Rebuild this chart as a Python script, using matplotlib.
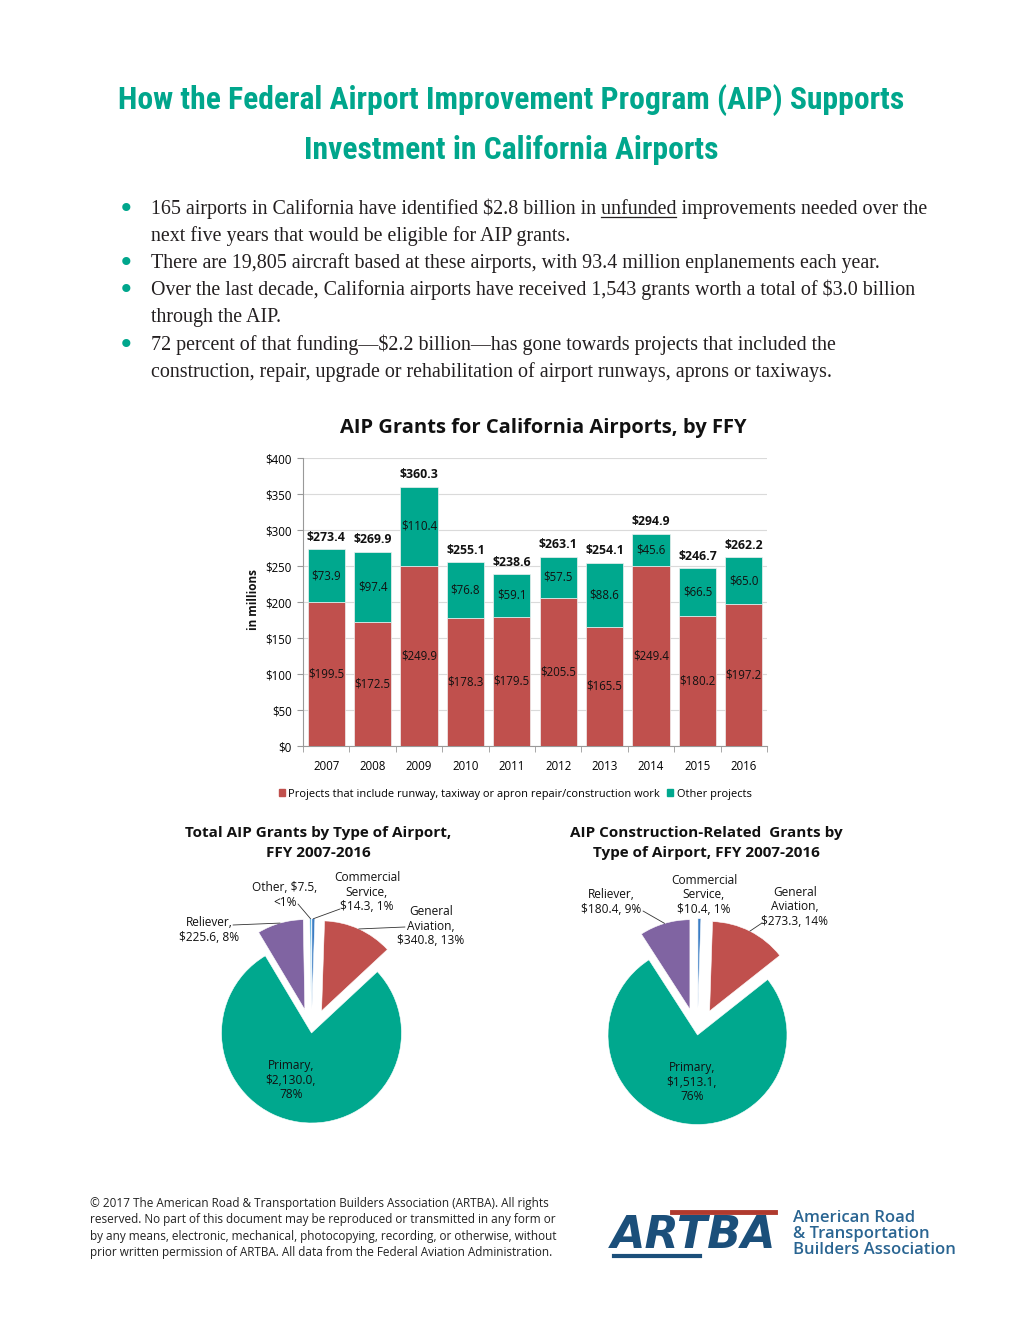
import numpy as np
import matplotlib.pyplot as plt
from matplotlib.patches import Patch

# Datos del grafico de barras (millones de dolares)
years = ['2007', '2008', '2009', '2010', '2011', '2012', '2013', '2014', '2015', '2016']
runway = [199.5, 172.5, 249.9, 178.3, 179.5, 205.5, 165.5, 249.4, 180.2, 197.2]
other = [73.9, 97.4, 110.4, 76.8, 59.1, 57.5, 88.6, 45.6, 66.5, 65.0]
totals = [273.4, 269.9, 360.3, 255.1, 238.6, 263.1, 254.1, 294.9, 246.7, 262.2]

# Datos de los graficos de torta
pie1_names = ['Commercial Service', 'General Aviation', 'Primary', 'Reliever', 'Other']
pie1_vals = [14.3, 340.8, 2130.0, 225.6, 7.5]
pie1_labels = ['Commercial\nService,\n$14.3, 1%', 'General\nAviation,\n$340.8, 13%',
               'Primary,\n$2,130.0,\n78%', 'Reliever,\n$225.6, 8%', 'Other, $7.5,\n<1%']
pie2_names = ['Commercial Service', 'General Aviation', 'Primary', 'Reliever']
pie2_vals = [10.4, 273.3, 1513.1, 180.4]
pie2_labels = ['Commercial\nService,\n$10.4, 1%', 'General\nAviation,\n$273.3, 14%',
               'Primary,\n$1,513.1,\n76%', 'Reliever,\n$180.4, 9%']

RED = '#C0504D'
GREEN = '#00A88E'
PURPLE = '#8064A2'
BLUE = '#3B7DC4'
LBLUE = '#5FB4E0'
TITLE_GREEN = '#00A68C'
SANS = ['Open Sans', 'DejaVu Sans']
SERIF = ['Liberation Serif', 'DejaVu Serif']
NARROW = ['Roboto Condensed', 'Liberation Sans Narrow', 'Roboto', 'DejaVu Sans']

W, H = 1020, 1320
fig = plt.figure(figsize=(10.2, 13.2), dpi=100)
plt.rcParams['font.family'] = SANS
r = fig.canvas.get_renderer()

# capa de pagina en coordenadas de pixel
pg = fig.add_axes([0, 0, 1, 1])
pg.set_xlim(0, W)
pg.set_ylim(H, 0)
pg.axis('off')
pg.set_zorder(5)


def text_width(s, **kw):
    t = pg.text(0, 0, s, **kw)
    w = t.get_window_extent(r).width
    t.remove()
    return w


# Titulo (ajustado al ancho del original)
title1 = 'How the Federal Airport Improvement Program (AIP) Supports'
title2 = 'Investment in California Airports'
tfs = 25 * 788 / text_width(title1, fontsize=25, fontweight='bold', family=NARROW)
for txt, y in [(title1, 100), (title2, 150)]:
    pg.text(511, y, txt, ha='center', va='center', fontsize=tfs, fontweight='bold',
            color=TITLE_GREEN, family=NARROW)

# Viñetas
bullets = [
    ("165 airports in California have identified $2.8 billion in unfunded improvements needed over the", 209, True),
    ("next five years that would be eligible for AIP grants.", 236, False),
    ("There are 19,805 aircraft based at these airports, with 93.4 million enplanements each year.", 263, True),
    ("Over the last decade, California airports have received 1,543 grants worth a total of $3.0 billion", 290, True),
    ("through the AIP.", 317, False),
    ("72 percent of that funding\u2014$2.2 billion\u2014has gone towards projects that included the", 345, True),
    ("construction, repair, upgrade or rehabilitation of airport runways, aprons or taxiways.", 372, False),
]
bfs = 13 * 774 / text_width(bullets[0][0], fontsize=13, family=SERIF)
for txt, y, dot in bullets:
    pg.text(151, y + 5, txt, ha='left', va='baseline', fontsize=bfs, family=SERIF, color='#231F20')
    if dot:
        pg.text(126, y, '\u2022', ha='center', va='center', fontsize=bfs * 1.4,
                color=TITLE_GREEN, family='DejaVu Sans')

# subrayado de "unfunded"
pre = bullets[0][0].split('unfunded')[0] + 'unfunded'
x_end = 151 + text_width(pre, fontsize=bfs, family=SERIF)
w_u = text_width('unfunded', fontsize=bfs, family=SERIF)
pg.plot([x_end - w_u, x_end], [217, 217], color='#231F20', lw=0.9)

# Grafico de barras
ax = fig.add_axes([303 / W, 1 - 746 / H, 464 / W, 288 / H])
x = np.arange(len(years))
b1 = ax.bar(x, runway, 0.8, color=RED, edgecolor='#f0f0f0', linewidth=0.5, zorder=3)
b2 = ax.bar(x, other, 0.8, bottom=runway, color=GREEN, edgecolor='#f0f0f0', linewidth=0.5, zorder=3)
ax.bar_label(b1, labels=[f'${v:.1f}' for v in runway], label_type='center', fontsize=8.3, color='#111')
ax.bar_label(b2, labels=[f'${v:.1f}' for v in other], label_type='center', fontsize=8.3, color='#111')
ax.bar_label(b2, labels=[f'${v:.1f}' for v in totals], padding=4, fontsize=8.8,
             fontweight='bold', color='#111')
ax.set_xlim(-0.5, 9.5)
ax.set_ylim(0, 400)
ax.set_yticks(np.arange(0, 401, 50))
ax.set_yticklabels([f'${v}' for v in range(0, 401, 50)])
ax.set_xticks(x)
ax.set_xticklabels(years)
ax.set_xticks(np.arange(-0.5, 10, 1), minor=True)
ax.tick_params(axis='x', which='major', length=0, pad=10, labelsize=8.3)
ax.tick_params(axis='x', which='minor', length=4, color='#999')
ax.tick_params(axis='y', length=4, color='#999', labelsize=8.3, pad=4)
ax.grid(axis='y', color='#DADADA', lw=0.8, zorder=0)
for s in ['top', 'right']:
    ax.spines[s].set_visible(False)
for s in ['left', 'bottom']:
    ax.spines[s].set_color('#999')

pg.text(543, 428, 'AIP Grants for California Airports, by FFY', ha='center', va='center',
        fontsize=14.5, fontweight='bold', color='#111')
pg.text(254, 600, 'in millions', rotation=90, ha='center', va='center', fontsize=8.5,
        fontweight='bold', color='#111')

handles = [Patch(color=RED), Patch(color=GREEN)]
fig.legend(handles, ['Projects that include runway, taxiway or apron repair/construction work', 'Other projects'],
           loc='center', bbox_to_anchor=(515 / W, 1 - 794 / H), ncol=2, frameon=False,
           fontsize=7.9, handlelength=0.6, handleheight=0.6, handletextpad=0.3, columnspacing=0.6)


# Graficos de torta
def make_pie(cx, cy, rad, vals, colors, explode):
    half = 1.5
    size = 2 * half * rad
    pa = fig.add_axes([(cx - size / 2) / W, 1 - (cy + size / 2) / H, size / W, size / H])
    wedges, _ = pa.pie(vals, colors=colors, startangle=90, counterclock=False, explode=explode,
                       wedgeprops=dict(linewidth=0.4, edgecolor='white'))
    pa.set_xlim(-half, half)
    pa.set_ylim(-half, half)
    pa.axis('off')
    return pa, wedges


def leader(pa, w, txy):
    th = np.deg2rad((w.theta1 + w.theta2) / 2)
    px = w.center[0] + w.r * np.cos(th)
    py = w.center[1] + w.r * np.sin(th)
    pg.annotate('', xy=(px, py), xycoords=pa.transData, xytext=txy, textcoords='data',
                arrowprops=dict(arrowstyle='-', color='#333', lw=0.6, shrinkA=0, shrinkB=0))


pie_fs = 8.6
pa1, w1 = make_pie(311.5, 1033, 90, pie1_vals, [BLUE, RED, GREEN, PURPLE, LBLUE],
                   [0.27, 0.27, 0, 0.27, 0.27])
pa2, w2 = make_pie(697.5, 1035, 89.5, pie2_vals, [BLUE, RED, GREEN, PURPLE],
                   [0.3, 0.3, 0, 0.3])

pie1_pos = [(367, 892), (431, 926), (291, 1080), (209, 930), (285, 895)]
for lab, (tx, ty) in zip(pie1_labels, pie1_pos):
    pg.text(tx, ty, lab, ha='center', va='center', fontsize=pie_fs, color='#111', linespacing=1.12)
leader(pa1, w1[0], (340, 909))
leader(pa1, w1[1], (405, 927))
leader(pa1, w1[3], (233, 925))
leader(pa1, w1[4], (298, 904))

pie2_pos = [(704, 895), (795, 907), (692, 1082), (611, 902)]
for lab, (tx, ty) in zip(pie2_labels, pie2_pos):
    pg.text(tx, ty, lab, ha='center', va='center', fontsize=pie_fs, color='#111', linespacing=1.12)
leader(pa2, w2[1], (762, 923))
leader(pa2, w2[3], (643, 911))

pg.text(318, 843, 'Total AIP Grants by Type of Airport,\nFFY 2007-2016', ha='center', va='center',
        fontsize=11, fontweight='bold', color='#111', linespacing=1.55)
pg.text(706, 843, 'AIP Construction-Related  Grants by\nType of Airport, FFY 2007-2016', ha='center',
        va='center', fontsize=11, fontweight='bold', color='#111', linespacing=1.55)

# Pie de pagina
foot = ("\u00a9 2017 The American Road & Transportation Builders Association (ARTBA). All rights\n"
        "reserved. No part of this document may be reproduced or transmitted in any form or\n"
        "by any means, electronic, mechanical, photocopying, recording, or otherwise, without\n"
        "prior written permission of ARTBA. All data from the Federal Aviation Administration.")
pg.text(90, 1228, foot, ha='left', va='center', fontsize=8.5, color='#222', linespacing=1.33)

# Logo
pg.text(694, 1236, 'ARTBA', ha='center', va='center', fontsize=32, fontweight='bold',
        fontstyle='italic', color='#1B4F7A', family='DejaVu Sans')
pg.plot([672, 775], [1212, 1212], color='#B03A2E', lw=3.5)
pg.plot([614, 700], [1256, 1256], color='#1B4F7A', lw=3)
pg.text(793, 1234, 'American Road\n& Transportation\nBuilders Association', ha='left', va='center',
        fontsize=12, fontweight='semibold', color='#2A6592', linespacing=1.0)

fig.savefig('out.png', dpi=100)
